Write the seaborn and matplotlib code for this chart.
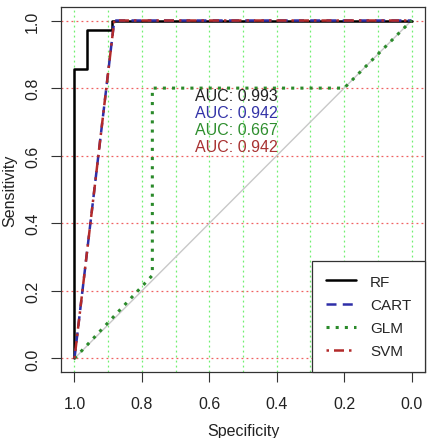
import matplotlib
matplotlib.use("Agg")
import matplotlib.pyplot as plt
import seaborn as sns
import pandas as pd
import numpy as np

sns.set_style("white")
plt.rcParams['font.family'] = ['Liberation Sans', 'DejaVu Sans']

# ---- data ----
rf_spec = [1.0, 1.0, 0.964, 0.964, 0.889, 0.889, 0.0]
rf_sens = [0.0, 0.857, 0.857, 0.971, 0.971, 1.0, 1.0]
cart_spec = [1.0, 0.882, 0.0]
cart_sens = [0.0, 1.0, 1.0]
glm_spec = [1.0, 0.769, 0.769, 0.2, 0.0]
glm_sens = [0.0, 0.246, 0.8, 0.8, 1.0]
svm_spec = [1.0, 0.882, 0.0]
svm_sens = [0.0, 1.0, 1.0]
models = ["RF", "CART", "GLM", "SVM"]
auc_values = [0.993, 0.942, 0.667, 0.942]
x_ticks = [1.0, 0.8, 0.6, 0.4, 0.2, 0.0]
y_ticks = [0.0, 0.2, 0.4, 0.6, 0.8, 1.0]
x_grid = [1.0, 0.9, 0.8, 0.7, 0.6, 0.5, 0.4, 0.3, 0.2, 0.1, 0.0]
y_grid = [0.0, 0.2, 0.4, 0.6, 0.8, 1.0]

colors = {"RF": "#000000", "CART": "#2E2EA8", "GLM": "#2A8A2A", "SVM": "#B22A2A"}
text_colors = {"RF": "#222222", "CART": "#3434A8", "GLM": "#2E8E2E", "SVM": "#A83232"}

frames = []
for name, sp, se in [("RF", rf_spec, rf_sens), ("CART", cart_spec, cart_sens),
                     ("GLM", glm_spec, glm_sens), ("SVM", svm_spec, svm_sens)]:
    frames.append(pd.DataFrame({"spec": sp, "sens": se, "model": name,
                                "order": range(len(sp))}))
df = pd.concat(frames, ignore_index=True)

fig = plt.figure(figsize=(4.33, 4.39), dpi=100)
ax = fig.add_axes([61/433, 1-373/439, (425-61)/433, (373-8)/439])

# grid
for gx in x_grid:
    ax.axvline(gx, color="#70F070", linestyle=(0, (1.5, 2.5)), lw=0.9, zorder=1)
for gy in y_grid:
    ax.axhline(gy, color="#F06060", linestyle=(0, (1.5, 2.5)), lw=0.9, zorder=1)

# diagonal
ax.plot([1.0, 0.0], [0.0, 1.0], color="#C8C8C8", lw=1.0, zorder=2)

styles = {"RF": "-", "CART": (0, (4, 2.5)), "GLM": (0, (1, 2)), "SVM": (0, (1, 2, 4, 2))}
widths = {"RF": 1.8, "CART": 1.8, "GLM": 2.2, "SVM": 1.8}
for m in models:
    sub = df[df.model == m]
    sns.lineplot(data=sub, x="spec", y="sens", sort=False, estimator=None,
                 color=colors[m], ax=ax, lw=widths[m], linestyle=styles[m],
                 label=m, zorder=3)

ax.set_xlim(1.04, -0.04)
ax.set_ylim(-0.04, 1.04)
ax.set_xticks(x_ticks)
ax.set_xticklabels([f"{v:.1f}" for v in x_ticks])
ax.set_yticks(y_ticks)
ax.set_yticklabels([f"{v:.1f}" for v in y_ticks], rotation=90, va="center")
ax.tick_params(axis="both", direction="out", length=7, width=0.8, color="#333333",
               labelsize=11.5, labelcolor="#222222", bottom=True, left=True)
ax.tick_params(axis="x", pad=10)
ax.tick_params(axis="y", pad=8)
ax.set_xlabel("Specificity", fontsize=11.5, color="#222222", labelpad=9)
ax.set_ylabel("Sensitivity", fontsize=11.5, color="#222222", labelpad=6)
for s in ax.spines.values():
    s.set_color("#333333")
    s.set_linewidth(0.9)

for i, m in enumerate(models):
    ax.text(0.642, 0.80 - i * 0.05, f"AUC: {auc_values[i]:.3f}", color=text_colors[m],
            fontsize=11.5, ha="left", va="top", zorder=5)

leg = ax.legend(loc="lower right", borderaxespad=0, fancybox=False, fontsize=11,
                handlelength=2.0, labelspacing=0.6, borderpad=0.9, handletextpad=0.9,
                framealpha=1)
leg.get_frame().set_edgecolor("#333333")
leg.get_frame().set_linewidth(0.9)

fig.savefig("out.png", dpi=100)
